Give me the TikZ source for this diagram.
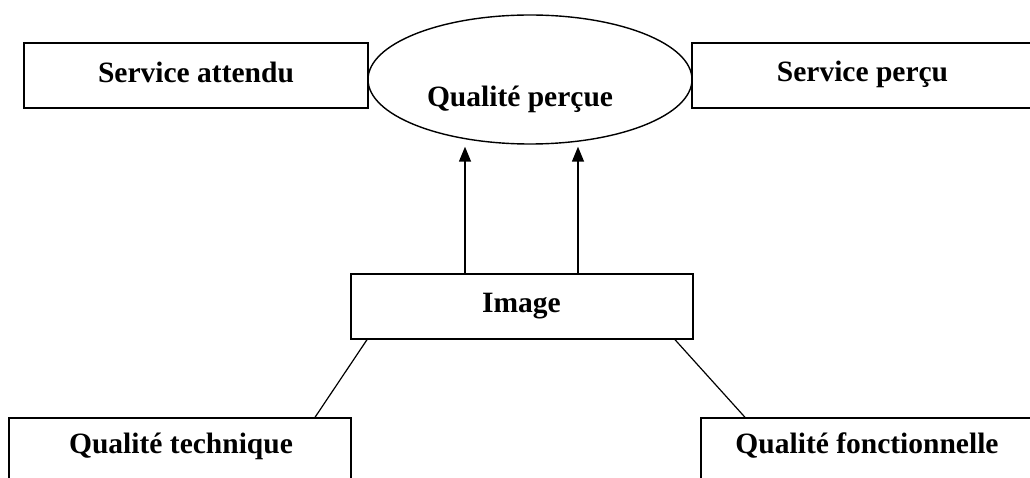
\documentclass[tikz,border=0pt]{standalone}
\usepackage{fontspec}
\setmainfont{Liberation Serif}
\usetikzlibrary{shapes.geometric,arrows.meta}
\tikzset{
  boxnode/.style={draw, line width=1.4pt, rectangle, inner sep=0pt},
  ovalnode/.style={draw, line width=1.4pt, ellipse, inner sep=0pt, minimum width=324pt, minimum height=129pt},
  lbl/.style={anchor=base, inner sep=0pt, font=\fontsize{29.5}{32}\selectfont\bfseries},
  arr/.style={line width=1.4pt, -{Triangle[length=15pt,width=12pt]}, shorten >=2pt},
  link/.style={line width=1.2pt}
}
\begin{document}
\begin{tikzpicture}[x=1pt,y=-1pt]
\useasboundingbox (0,0) rectangle (1030,478);
\clip (0,0) rectangle (1030,478);
\fill[white] (0,0) rectangle (1030,478);
% boxes
\node[boxnode, minimum width=344pt, minimum height=65pt] (sa) at (196,75.5) {};
\node[ovalnode] (qp) at (530,79.5) {};
\node[boxnode, minimum width=348pt, minimum height=65pt] (sp) at (866,75.5) {};
\node[boxnode, minimum width=342pt, minimum height=65pt] (im) at (522,306.5) {};
\node[boxnode, minimum width=342pt, minimum height=72pt] (qt) at (180,454) {};
\node[boxnode, minimum width=339pt, minimum height=72pt] (qf) at (870.5,454) {};
% labels
\node[lbl] (tsa) at (196,82.5) {Service attendu};
\node[lbl] (tqp) at (520,107) {Qualité perçue};
\node[lbl] (tsp) at (862.5,82) {Service perçu};
\node[lbl] (tim) at (521.5,312.5) {Image};
\node[lbl] (tqt) at (181,453) {Qualité technique};
\node[lbl] (tqf) at (867,453) {Qualité fonctionnelle};
% connectors
\draw[arr] ([xshift=-57pt]im.north) -- ([xshift=-57pt]im.north |- qp.south);
\draw[arr] ([xshift=56pt]im.north) -- ([xshift=56pt]im.north |- qp.south);
\draw[link] ([xshift=-155pt]im.south) -- ([xshift=135pt]qt.north);
\draw[link] ([xshift=153pt]im.south) -- ([xshift=-125.5pt]qf.north);
\end{tikzpicture}
\end{document}
